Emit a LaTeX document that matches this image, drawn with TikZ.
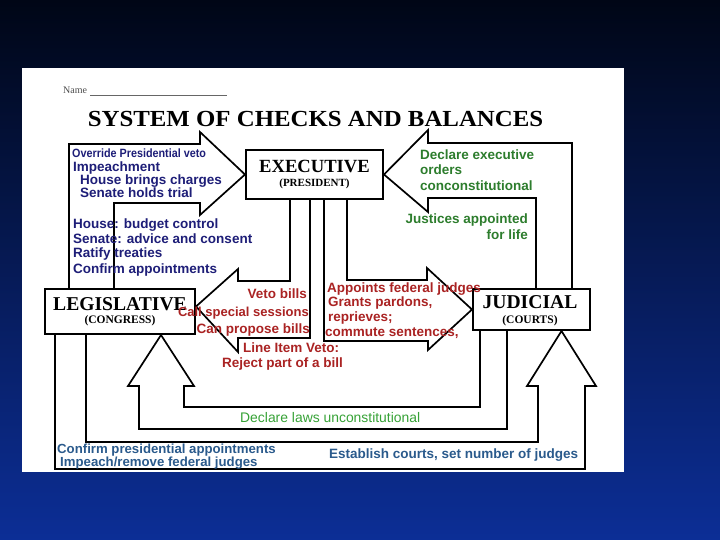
\documentclass[tikz,border=0pt]{standalone}
\usepackage{fontspec}
\setmainfont{Liberation Sans}
\newfontfamily\tms{Liberation Serif}
\usetikzlibrary{arrows.meta}

\definecolor{slidetop}{HTML}{000616}
\definecolor{slidebot}{HTML}{0C2E96}
\definecolor{navytx}{HTML}{1E1E78}
\definecolor{redtx}{HTML}{AA2323}
\definecolor{grntx}{HTML}{2D7D2D}
\definecolor{lgrntx}{HTML}{36A236}
\definecolor{tealtx}{HTML}{2A5A8C}

\begin{document}
\begin{tikzpicture}[x=1pt, y=-1pt,
    branch/.style={draw, line width=2pt, fill=white, inner sep=0pt},
    blk/.style={draw, line width=1.7pt, line join=miter},
    boxtx/.style={inner sep=0pt, anchor=base, font=\tms\bfseries\fontsize{#1}{#1}\selectfont},
    tx/.style={inner sep=0pt, font=\bfseries\fontsize{13.5}{13.5}\selectfont},
    lft/.style={tx, anchor=base west},
    rgt/.style={tx, anchor=base east}]
  \useasboundingbox (0,0) rectangle (720,540);
  \shade[top color=slidetop, bottom color=slidebot] (0,0) rectangle (720,540);
  \fill[white] (22,68) rectangle (624,472);

  % heading
  \node[inner sep=0pt, anchor=base west, text=black!70, font=\tms\fontsize{10}{10}\selectfont] (name) at (63,94) {Name};
  \draw[black!60, line width=0.6pt] (90,95) -- (227,95);
  \node[boxtx=23] (title) at (315.5,127) {\scalebox{1.08}[1]{SYSTEM OF CHECKS AND BALANCES}};

  % the three branches
  \node[branch, minimum width=137pt, minimum height=49pt] (exe) at (314.5,174.5) {};
  \node[branch, minimum width=150pt, minimum height=45pt] (leg) at (120,311.5) {};
  \node[branch, minimum width=117pt, minimum height=41pt] (jud) at (531.5,309.5) {};
  \node[boxtx=18.6] (exet) at (314.5,173) {EXECUTIVE};
  \node[boxtx=11] (exes) at (314.5,187) {(PRESIDENT)};
  \node[boxtx=19.6] (legt) at (120,310) {LEGISLATIVE};
  \node[boxtx=11.5] (legs) at (120,323) {(CONGRESS)};
  \node[boxtx=19.6] (judt) at (530,308) {JUDICIAL};
  \node[boxtx=11.5] (juds) at (530,323) {(COURTS)};

  % block arrows
  \draw[blk] (69,0 |- leg.north) -- (69,144) -- (200,144) -- (200,132) -- (exe.west)
    -- (200,215) -- (200,203) -- (114,203) -- (114,0 |- leg.north);
  \draw[blk] (290,0 |- exe.south) -- (290,281) -- (238,281) -- (238,269) -- ([yshift=5pt]leg.east)
    -- (238,352) -- (238,338) -- (310,338) -- (310,0 |- exe.south);
  \draw[blk] (347,0 |- exe.south) -- (347,280) -- (427,280) -- (427,268) -- (jud.west)
    -- (428,350) -- (428,341) -- (324,341) -- (324,0 |- exe.south);
  \draw[blk] (572,0 |- jud.north) -- (572,143) -- (428,143) -- (428,130) -- (exe.east)
    -- (428,212) -- (428,198) -- (536,198) -- (536,0 |- jud.north);
  \draw[blk] (480,0 |- jud.south) -- (480,407) -- (184,407) -- (184,386) -- (194,386)
    -- ([xshift=41pt]leg.south) -- (128,386) -- (139,386) -- (139,429) -- (507,429) -- (507,0 |- jud.south);
  \draw[blk] (55,0 |- leg.south) -- (55,469) -- (585,469) -- (585,386) -- (596,386)
    -- ([xshift=30pt]jud.south) -- (527,386) -- (538,386) -- (538,442) -- (86,442) -- (86,0 |- leg.south);

  % congress checks
  \node[lft, text=navytx, font=\bfseries\fontsize{12}{12}\selectfont] (ovr) at (72,158) {\scalebox{0.9}[1]{Override Presidential veto}};
  \node[lft, text=navytx] (imp) at (73,172) {Impeachment};
  \node[lft, text=navytx] (hbc) at (80,185) {House brings charges};
  \node[lft, text=navytx] (sht) at (80,198) {Senate holds trial};
  \node[lft, text=navytx] (bud) at (73,229) {House: budget control};
  \node[lft, text=navytx] (adv) at (73,243.5) {Senate: advice and consent};
  \node[lft, text=navytx] (rat) at (73,258) {Ratify treaties};
  \node[lft, text=navytx] (cfa) at (73,273) {Confirm appointments};

  % president checks
  \node[rgt, text=redtx] (veto) at (307,298.5) {Veto bills};
  \node[rgt, text=redtx, font=\bfseries\fontsize{13}{13}\selectfont] (call) at (309,316) {Call special sessions};
  \node[rgt, text=redtx] (prop) at (310,333) {Can propose bills};
  \node[lft, text=redtx] (liv) at (243,352.5) {Line Item Veto:};
  \node[lft, text=redtx] (rej) at (222,367.5) {Reject part of a bill};
  \node[lft, text=redtx] (apj) at (327,292) {Appoints federal judges};
  \node[lft, text=redtx] (gp) at (328,306) {Grants pardons,};
  \node[lft, text=redtx] (rep) at (328,321.5) {reprieves;};
  \node[lft, text=redtx] (com) at (325,336) {commute sentences,};

  % court checks
  \node[lft, text=grntx] (dec) at (420,159.5) {Declare executive};
  \node[lft, text=grntx] (ord) at (420,175) {orders};
  \node[lft, text=grntx] (conc) at (420,190.7) {conconstitutional};
  \node[rgt, text=grntx] (jus) at (528,224) {Justices appointed};
  \node[rgt, text=grntx] (life) at (528,239.3) {for life};
  \node[lft, text=lgrntx, font=\fontsize{13.9}{13.9}\selectfont] (dlaw) at (240,422) {Declare laws unconstitutional};

  % bottom row
  \node[lft, text=tealtx, font=\bfseries\fontsize{13.2}{13.2}\selectfont] (cpa) at (57,453) {Confirm presidential appointments};
  \node[lft, text=tealtx, font=\bfseries\fontsize{13.2}{13.2}\selectfont] (imr) at (60,466.5) {Impeach/remove federal judges};
  \node[lft, text=tealtx] (est) at (329,458.5) {Establish courts, set number of judges};
\end{tikzpicture}
\end{document}
